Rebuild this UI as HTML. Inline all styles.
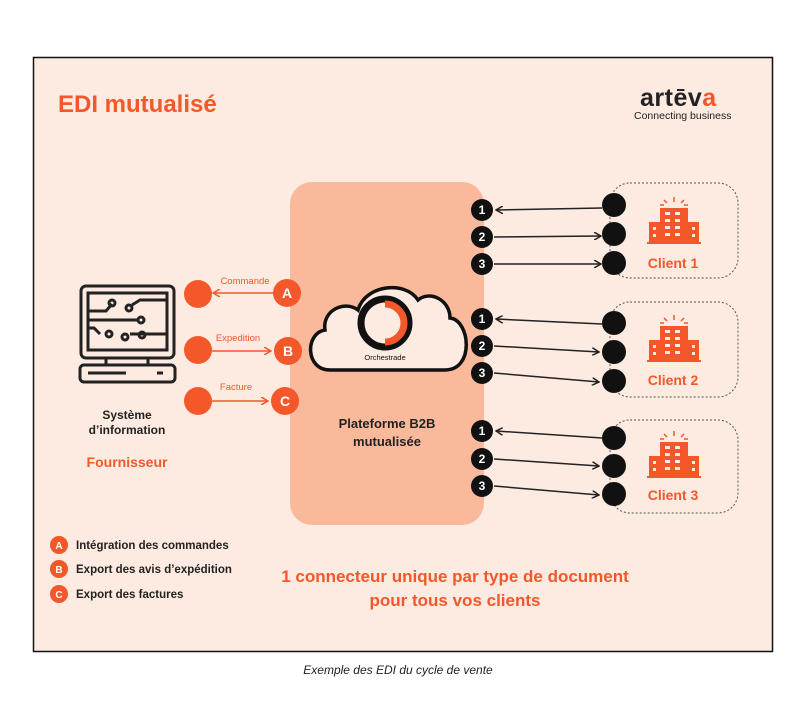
<!DOCTYPE html>
<html><head><meta charset="utf-8"><style>
body{margin:0;width:800px;height:700px;background:#fff;font-family:"Liberation Sans",sans-serif;}
</style></head><body>
<svg width="800" height="700" viewBox="0 0 800 700" xmlns="http://www.w3.org/2000/svg" font-family="Liberation Sans, sans-serif">
<defs>
<marker id="ab" markerWidth="8" markerHeight="8" refX="7" refY="4" orient="auto" markerUnits="userSpaceOnUse"><path d="M0,0 L7,4 L0,8" fill="none" stroke="#222" stroke-width="1.5"/></marker>
<marker id="ao" markerWidth="8" markerHeight="8" refX="7" refY="4" orient="auto" markerUnits="userSpaceOnUse"><path d="M0,0 L7,4 L0,8" fill="none" stroke="#f4572a" stroke-width="1.5"/></marker>
<g id="bld" fill="#f4572a">
<rect x="-14" y="-16" width="28" height="34"/><rect x="-25" y="-2" width="11" height="20"/><rect x="14" y="-2" width="11" height="20"/><rect x="-27" y="18" width="54" height="2"/>
<g fill="#fdeae0"><rect x="-9" y="-12" width="5" height="3"/><rect x="1" y="-12" width="5" height="3"/><rect x="-9" y="-5" width="5" height="3"/><rect x="1" y="-5" width="5" height="3"/><rect x="-9" y="2" width="5" height="3"/><rect x="1" y="2" width="5" height="3"/><rect x="-9" y="9" width="5" height="3"/><rect x="1" y="9" width="5" height="3"/><rect x="-21" y="3" width="3" height="3"/><rect x="-21" y="10" width="3" height="3"/><rect x="18" y="3" width="3" height="3"/><rect x="18" y="10" width="3" height="3"/></g>
<path d="M0,-27v5M-10,-24l3,3M10,-24l-3,3M-14,-19h4M14,-19h-4" stroke="#f4572a" stroke-width="1.5"/>
</g>
</defs>
<rect x="33.5" y="57.5" width="739" height="594" fill="#fdeae0" stroke="#111" stroke-width="1.5"/>
<text x="58" y="112" font-size="24" font-weight="bold" fill="#f4572a">EDI mutualisé</text>
<text x="640" y="106" font-size="25" font-weight="bold" fill="#222" letter-spacing="0.5">artēv<tspan fill="#f4572a">a</tspan></text>
<text x="634" y="119" font-size="10.5" fill="#222">Connecting business</text>
<rect x="290" y="182" width="194" height="343" rx="22" fill="#fbb99b"/>
<path d="M330,370 C305,370 305,333 325,330 C322,310 345,300 358,310 C365,285 405,280 418,300 C430,290 450,300 450,318 C470,320 475,370 445,370 Z" fill="#fdeae0" stroke="#111" stroke-width="3.5"/>
<circle cx="385" cy="323" r="24" fill="none" stroke="#111" stroke-width="7"/>
<path d="M385,304 A19,19 0 0 1 385,342" fill="none" stroke="#f4572a" stroke-width="7"/>
<text x="385" y="360" font-size="7.5" fill="#111" text-anchor="middle">Orchestrade</text>
<text x="387" y="428" font-size="13" font-weight="bold" fill="#222" text-anchor="middle">Plateforme B2B</text>
<text x="387" y="446" font-size="13" font-weight="bold" fill="#222" text-anchor="middle">mutualisée</text>
<g fill="none" stroke="#222" stroke-width="3">
<rect x="81" y="286" width="93" height="72" rx="5"/><rect x="88" y="293" width="79" height="57"/>
<rect x="80" y="365" width="95" height="17" rx="4"/><path d="M106,358v7M148,358v7M88,373h38M157,373h6"/>
<path d="M88,311h18l6,-7M132,305l8,-5h27M88,320h50M88,328h6l6,6M130,334h37"/>
<circle cx="112" cy="303" r="3"/><circle cx="129" cy="308" r="3"/><circle cx="141" cy="320" r="3"/><circle cx="109" cy="334" r="3"/><circle cx="125" cy="337" r="3"/><circle cx="142" cy="335" r="3"/>
</g>
<text x="127" y="419" font-size="12" font-weight="bold" fill="#222" text-anchor="middle">Système</text>
<text x="127" y="434" font-size="12" font-weight="bold" fill="#222" text-anchor="middle">d’information</text>
<text x="127" y="467" font-size="14" font-weight="bold" fill="#f4572a" text-anchor="middle">Fournisseur</text>
<g fill="#f4572a">
<circle cx="198" cy="294" r="14"/><circle cx="198" cy="350" r="14"/><circle cx="198" cy="401" r="14"/>
<circle cx="287" cy="293" r="14"/><circle cx="288" cy="351" r="14"/><circle cx="285" cy="401" r="14"/>
</g>
<g stroke="#f4572a" stroke-width="1.5">
<line x1="273" y1="293" x2="213" y2="293" marker-end="url(#ao)"/>
<line x1="212" y1="351" x2="271" y2="351" marker-end="url(#ao)"/>
<line x1="212" y1="401" x2="268" y2="401" marker-end="url(#ao)"/>
</g>
<g fill="#f4572a" font-size="9.5" text-anchor="middle"><text x="245" y="284">Commande</text><text x="238" y="341">Expedition</text><text x="236" y="390">Facture</text></g>
<g fill="#fff" font-size="14" font-weight="bold" text-anchor="middle"><text x="287" y="298">A</text><text x="288" y="356">B</text><text x="285" y="406">C</text></g>
<g fill="none" stroke="#555" stroke-width="1" stroke-dasharray="2,2">
<rect x="610" y="183" width="128" height="95" rx="20"/><rect x="610" y="302" width="128" height="95" rx="20"/><rect x="610" y="420" width="128" height="93" rx="20"/>
</g>
<use href="#bld" x="674" y="224"/><use href="#bld" x="674" y="342"/><use href="#bld" x="674" y="458"/>
<g fill="#f4572a" font-size="14" font-weight="bold" text-anchor="middle"><text x="673" y="268">Client 1</text><text x="673" y="385">Client 2</text><text x="673" y="500">Client 3</text></g>
<g stroke="#222" stroke-width="1.5">
<line x1="602" y1="208" x2="496" y2="210" marker-end="url(#ab)"/>
<line x1="494" y1="237" x2="601" y2="236" marker-end="url(#ab)"/>
<line x1="494" y1="264" x2="601" y2="264" marker-end="url(#ab)"/>
<line x1="602" y1="324" x2="496" y2="319" marker-end="url(#ab)"/>
<line x1="494" y1="346" x2="599" y2="352" marker-end="url(#ab)"/>
<line x1="494" y1="373" x2="599" y2="382" marker-end="url(#ab)"/>
<line x1="602" y1="438" x2="496" y2="431" marker-end="url(#ab)"/>
<line x1="494" y1="459" x2="599" y2="466" marker-end="url(#ab)"/>
<line x1="494" y1="486" x2="599" y2="495" marker-end="url(#ab)"/>
</g>
<g fill="#111">
<circle cx="614" cy="205" r="12"/><circle cx="614" cy="234" r="12"/><circle cx="614" cy="263" r="12"/>
<circle cx="614" cy="323" r="12"/><circle cx="614" cy="352" r="12"/><circle cx="614" cy="381" r="12"/>
<circle cx="614" cy="438" r="12"/><circle cx="614" cy="466" r="12"/><circle cx="614" cy="494" r="12"/>
<circle cx="482" cy="210" r="11"/><circle cx="482" cy="237" r="11"/><circle cx="482" cy="264" r="11"/>
<circle cx="482" cy="319" r="11"/><circle cx="482" cy="346" r="11"/><circle cx="482" cy="373" r="11"/>
<circle cx="482" cy="431" r="11"/><circle cx="482" cy="459" r="11"/><circle cx="482" cy="486" r="11"/>
</g>
<g fill="#fff" font-size="12" font-weight="bold" text-anchor="middle">
<text x="482" y="214">1</text><text x="482" y="241">2</text><text x="482" y="268">3</text>
<text x="482" y="323">1</text><text x="482" y="350">2</text><text x="482" y="377">3</text>
<text x="482" y="435">1</text><text x="482" y="463">2</text><text x="482" y="490">3</text>
</g>
<g fill="#f4572a"><circle cx="59" cy="545" r="9"/><circle cx="59" cy="569" r="9"/><circle cx="59" cy="594" r="9"/></g>
<g fill="#fff" font-size="10" font-weight="bold" text-anchor="middle"><text x="59" y="549">A</text><text x="59" y="573">B</text><text x="59" y="598">C</text></g>
<g fill="#222" font-size="11.5" font-weight="bold"><text x="76" y="549">Intégration des commandes</text><text x="76" y="573">Export des avis d’expédition</text><text x="76" y="598">Export des factures</text></g>
<g fill="#f4572a" font-size="17" font-weight="bold" text-anchor="middle"><text x="455" y="582">1 connecteur unique par type de document</text><text x="455" y="606">pour tous vos clients</text></g>
<text x="398" y="674" font-size="12" font-style="italic" fill="#222" text-anchor="middle">Exemple des EDI du cycle de vente</text>
</svg>
</body></html>
